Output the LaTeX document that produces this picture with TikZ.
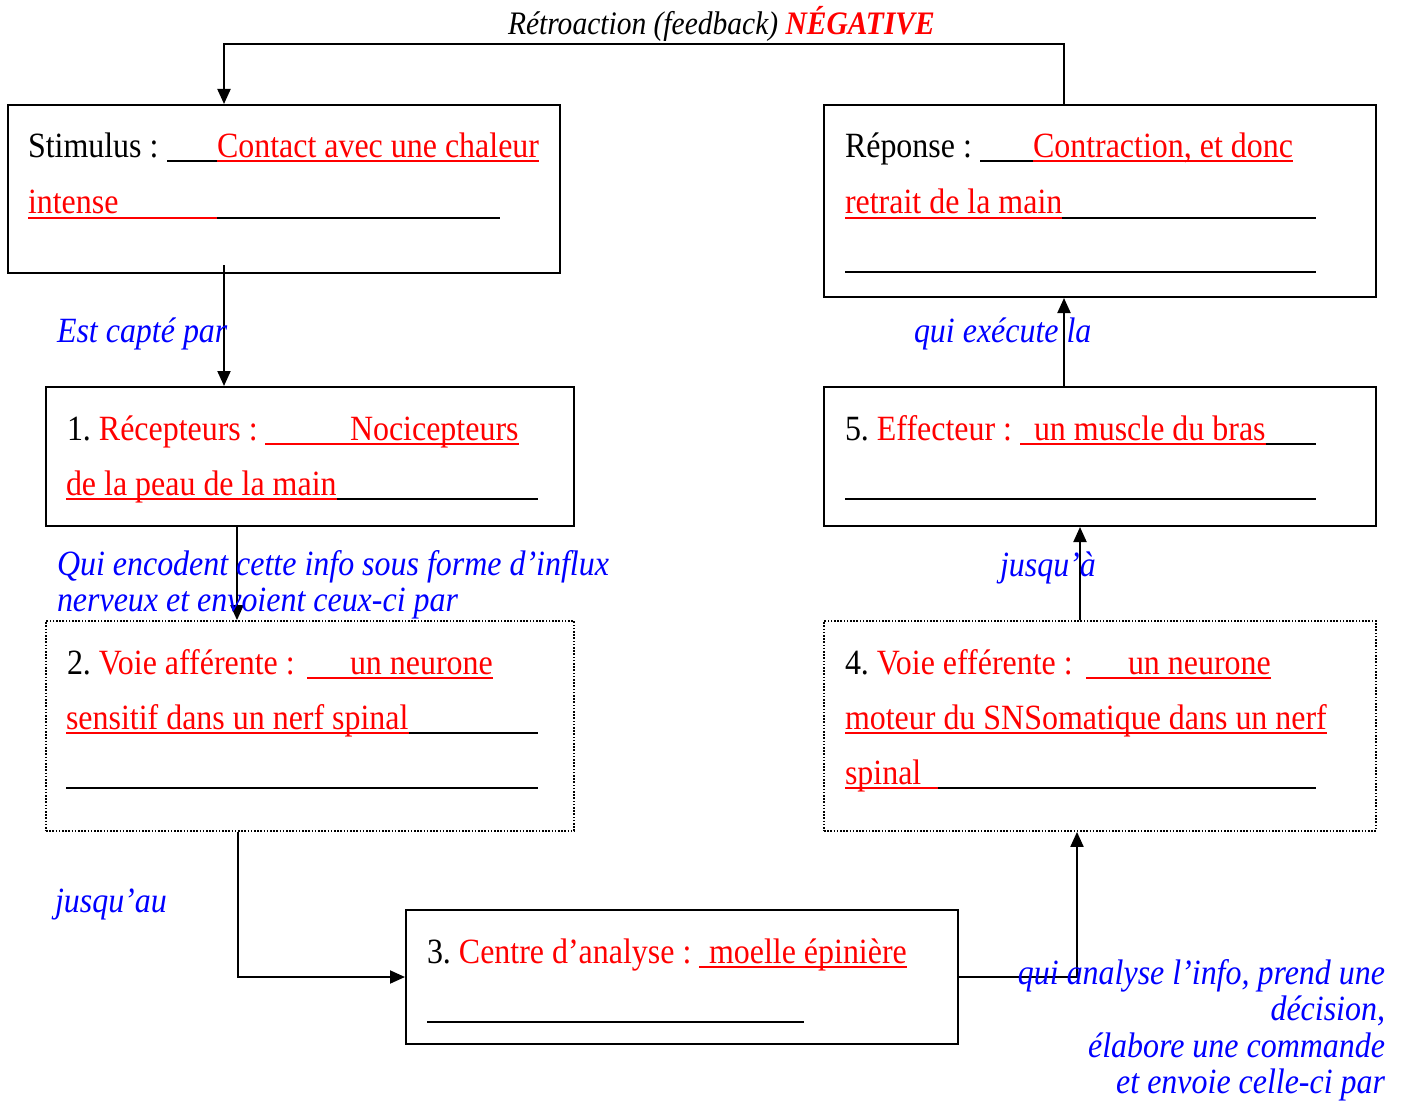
\documentclass[tikz,border=0pt]{standalone}
\usepackage{fontspec}
\setmainfont{Liberation Serif}[FakeStretch=0.9]
\usetikzlibrary{arrows.meta}
\frenchspacing
\newcommand{\bodyfont}{\fontsize{35.5}{37}\selectfont}
\newcommand{\lblfont}{\fontsize{35.5}{36.5}\selectfont}
\newcommand{\titlefont}{\fontsize{32.8}{34}\selectfont}
\tikzset{
  box/.style={draw=black, line width=2pt, rectangle, inner sep=0pt},
  dotbox/.style={box, line width=1.8pt, dash pattern=on 1.6pt off 1.6pt},
  txt/.style={inner sep=0pt, outer sep=0pt, anchor=base west, font=\bodyfont},
  lbl/.style={txt, text=blue, font=\lblfont\itshape},
  ul/.style={line width=2pt, black},
  rul/.style={line width=2pt, red},
  conn/.style={line width=2pt, -{Triangle[length=15pt,width=13pt]}}
}
\begin{document}
\begin{tikzpicture}[x=1pt,y=-1pt]
\useasboundingbox (0,0) rectangle (1402,1102);
% boxes
\node[box, minimum width=552pt, minimum height=168pt] (stim) at (284,189) {};
\node[box, minimum width=552pt, minimum height=192pt] (rep) at (1100,201) {};
\node[box, minimum width=528pt, minimum height=139pt] (rec) at (310,456.5) {};
\node[box, minimum width=552pt, minimum height=139pt] (eff) at (1100,456.5) {};
\node[dotbox, minimum width=528pt, minimum height=210pt] (aff) at (310,726) {};
\node[dotbox, minimum width=552pt, minimum height=210pt] (efr) at (1100,726) {};
\node[box, minimum width=552pt, minimum height=134pt] (cen) at (682,977) {};
% title
\node[txt, font=\titlefont] (title) at (508,35) {\itshape Rétroaction (feedback) \textcolor{red}{\bfseries NÉGATIVE}};
% connectors
\coordinate (fbR) at (1064,44);
\coordinate (fbL) at (224,44);
\draw[conn] (rep.north -| fbR) -- (fbR) -- (fbL) -- (fbL |- stim.north);
\coordinate (s1) at (224,265);
\draw[conn] (s1) -- (s1 |- rec.north);
\coordinate (k12) at (237,570);
\draw[conn] (k12 |- rec.south) -- (k12 |- aff.north);
\coordinate (k23) at (238,977);
\draw[conn] (k23 |- aff.south) -- (k23) -- (cen.west);
\coordinate (k34) at (1077,977);
\draw[conn] (cen.east) -- (k34) -- (k34 |- efr.south);
\coordinate (k45) at (1080,570);
\draw[conn] (k45 |- efr.north) -- (k45 |- eff.south);
\coordinate (k5r) at (1064,340);
\draw[conn] (k5r |- eff.north) -- (k5r |- rep.south);
% connector labels
\node[lbl] (l1) at (57,342) {Est capté par};
\node[lbl] (l2) at (914,342) {qui exécute la};
\node[lbl, anchor=north west, align=left] (l3) at (57,550) {Qui encodent cette info sous forme d’influx\\nerveux et envoient ceux-ci par};
\node[lbl] (l4) at (1000,576) {jusqu’à};
\node[lbl] (l5) at (55,912) {jusqu’au};
\node[lbl, anchor=north east, align=right] (l6) at (1385,959) {qui analyse l’info, prend une\\décision,\\élabore une commande\\et envoie celle-ci par};
% Stimulus
\node[txt] (st1) at (28,158) {Stimulus :};
\draw[ul] (167,161.5) -- (217,161.5);
\node[txt, text=red] (st2) at (217,158) {Contact avec une chaleur};
\draw[rul] ([yshift=-3.5pt]st2.base west) -- ([yshift=-3.5pt]st2.base east);
\node[txt, text=red] (st3) at (28,214) {intense};
\draw[rul] (28,217.5) -- (217,217.5);
\draw[ul] (217,217.5) -- (500,217.5);
% Reponse
\node[txt] (re1) at (845,158) {Réponse :};
\draw[ul] (980,161.5) -- (1033,161.5);
\node[txt, text=red] (re2) at (1033,158) {Contraction, et donc};
\draw[rul] ([yshift=-3.5pt]re2.base west) -- ([yshift=-3.5pt]re2.base east);
\node[txt, text=red] (re3) at (845,214) {retrait de la main};
\draw[rul] ([yshift=-3.5pt]re3.base west) -- ([yshift=-3.5pt]re3.base east);
\draw[ul] ([yshift=-3.5pt]re3.base east) -- (1316,217.5);
\draw[ul] (845,272) -- (1316,272);
% 1 Recepteurs
\node[txt] (r1) at (67,440) {1. \textcolor{red}{Récepteurs :}};
\node[txt, text=red] (r2) at (350,440) {Nocicepteurs};
\draw[rul] (265,443.5) -- ([yshift=-3.5pt]r2.base east);
\node[txt, text=red] (r3) at (66,495) {de la peau de la main};
\draw[rul] ([yshift=-3.5pt]r3.base west) -- ([yshift=-3.5pt]r3.base east);
\draw[ul] ([yshift=-3.5pt]r3.base east) -- (538,498.5);
% 5 Effecteur
\node[txt] (e1) at (845,440) {5. \textcolor{red}{Effecteur :}};
\node[txt, text=red] (e2) at (1034,440) {un muscle du bras};
\draw[rul] (1020,443.5) -- ([yshift=-3.5pt]e2.base east);
\draw[ul] ([yshift=-3.5pt]e2.base east) -- (1316,443.5);
\draw[ul] (845,498.5) -- (1316,498.5);
% 2 Voie afferente
\node[txt] (v1) at (67,674) {2. \textcolor{red}{Voie afférente :}};
\node[txt, text=red] (v2) at (350,674) {un neurone};
\draw[rul] (307,677.5) -- ([yshift=-3.5pt]v2.base east);
\node[txt, text=red] (v3) at (66,729) {sensitif dans un nerf spinal};
\draw[rul] ([yshift=-3.5pt]v3.base west) -- ([yshift=-3.5pt]v3.base east);
\draw[ul] ([yshift=-3.5pt]v3.base east) -- (538,732.5);
\draw[ul] (66,787.5) -- (538,787.5);
% 4 Voie efferente
\node[txt] (w1) at (845,674) {4. \textcolor{red}{Voie efférente :}};
\node[txt, text=red] (w2) at (1128,674) {un neurone};
\draw[rul] (1086,677.5) -- ([yshift=-3.5pt]w2.base east);
\node[txt, text=red] (w3) at (845,729) {moteur du SNSomatique dans un nerf};
\draw[rul] ([yshift=-3.5pt]w3.base west) -- ([yshift=-3.5pt]w3.base east);
\node[txt, text=red] (w4) at (845,784) {spinal};
\draw[rul] (845,787.5) -- (938,787.5);
\draw[ul] (938,787.5) -- (1316,787.5);
% 3 Centre
\node[txt] (c1) at (427,963) {3. \textcolor{red}{Centre d’analyse :}};
\node[txt, text=red] (c2) at (709,963) {moelle épinière};
\draw[rul] (699,966.5) -- ([yshift=-3.5pt]c2.base east);
\draw[ul] (427,1021.5) -- (804,1021.5);
\end{tikzpicture}
\end{document}
